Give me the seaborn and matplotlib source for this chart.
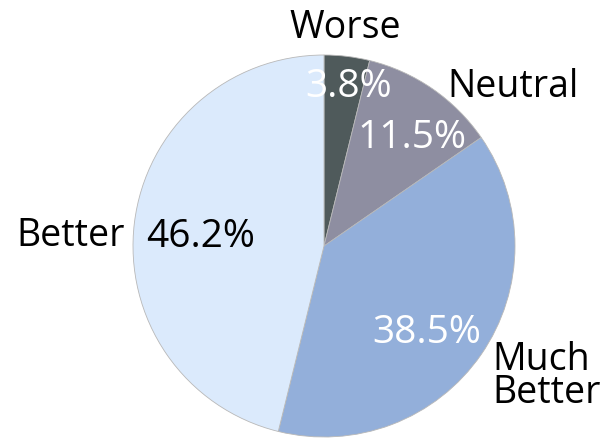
import matplotlib
matplotlib.use("Agg")
import matplotlib.pyplot as plt
import seaborn as sns

categories = ["Worse", "Neutral", "Much\nBetter", "Better"]
counts = [1, 3, 10, 12]
colors = ["#4f5a5b", "#8e8ea1", "#93afda", "#dbeafc"]
pct_colors = ["white", "white", "white", "black"]

sns.set_style("white")
plt.rcParams["font.family"] = ["Open Sans", "DejaVu Sans"]

fig = plt.figure(figsize=(6.04, 4.41), dpi=100)
ax = fig.add_axes([0, 0, 1, 1])

wedges, texts, autotexts = ax.pie(
    counts, labels=categories, colors=colors, startangle=90, counterclock=False,
    autopct="%1.1f%%", wedgeprops=dict(edgecolor="#b8b8b8", linewidth=0.6),
    textprops=dict(fontsize=27),
)

# label placement (data units, radius = 1)
label_pos = [(0.110, 1.089, "center"), (0.992, 0.780, "center"),
             (0.880, -0.822, "left"), (-1.042, 0.0, "right")]
pct_pos = [(0.131, 0.780), (0.458, 0.513), (0.537, -0.508), (-0.644, -0.005)]
for t, (x, y, ha) in zip(texts, label_pos):
    t.set_position((x, y))
    t.set_ha(ha)
    t.set_va("baseline")
    t.set_linespacing(0.84)
    t.set_color("black")
for t, (x, y), c in zip(autotexts, pct_pos, pct_colors):
    t.set_position((x, y))
    t.set_ha("center")
    t.set_va("baseline")
    t.set_color(c)
    t.set_fontsize(28)

ax.set_aspect("auto")
ax.set_xlim(-324 / 191, (604 - 324) / 191)
ax.set_ylim(-(441 - 246) / 191, 246 / 191)
ax.axis("off")

fig.savefig("out.png", dpi=100)
